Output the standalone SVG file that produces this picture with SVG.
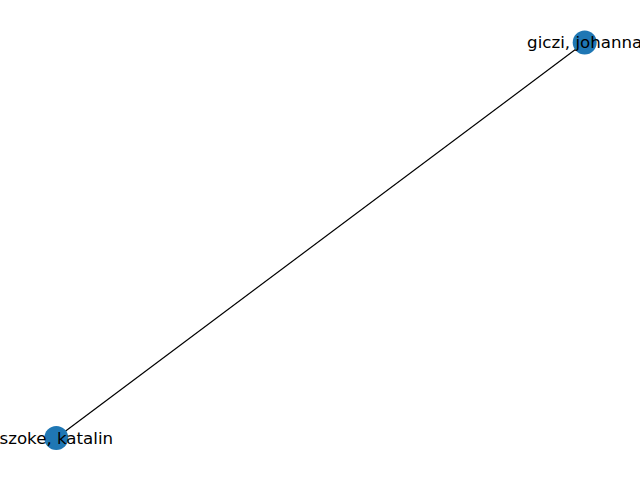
<svg xmlns="http://www.w3.org/2000/svg" width="640" height="480" viewBox="0 0 640 480">
<style>
.node{fill:#1f77b4;}
.lbl{font-family:"DejaVu Sans",sans-serif;font-size:16.67px;fill:#000;text-anchor:middle;}
.edge{stroke:#000;stroke-width:1.2;fill:none;}
</style>
<rect width="640" height="480" fill="#fff"/>
<g id="edges">
<line class="edge" x1="584.7" y1="42.5" x2="56.3" y2="438"/>
</g>
<g id="node-giczi">
<circle class="node" cx="584.7" cy="42.5" r="12"/>
<text class="lbl" x="584.7" y="48">giczi, johanna</text>
</g>
<g id="node-szoke">
<circle class="node" cx="56.3" cy="438" r="12"/>
<text class="lbl" x="56.3" y="443.5">szoke, katalin</text>
</g>
</svg>
